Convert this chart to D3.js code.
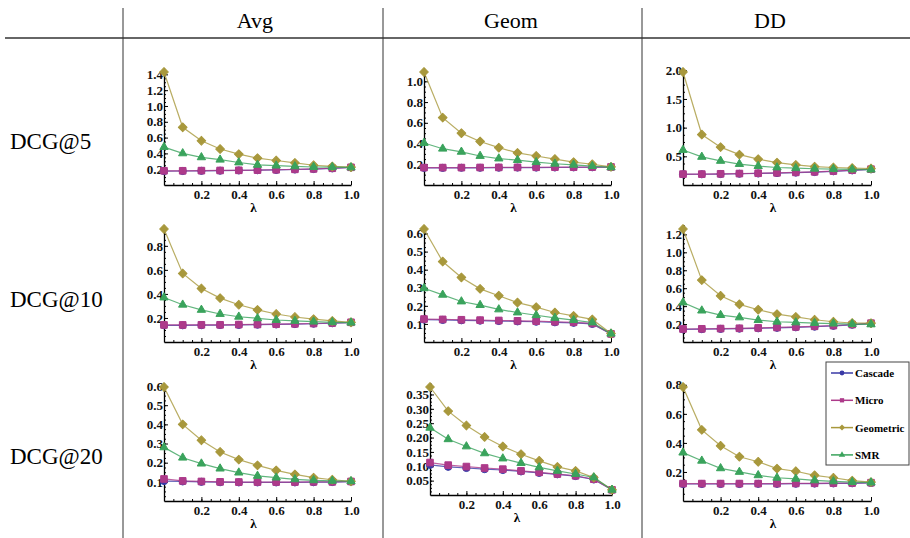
<!doctype html>
<html>

<head>
    <meta charset="utf-8">
    <title>DCG vs lambda</title>
    <style>
        body { margin: 0; background: #fff; }
        svg { display: block; }
        svg text { font-family: "Liberation Serif", "Times New Roman", "DejaVu Serif", serif; }
    </style>
    <script src="https://cdn.jsdelivr.net/npm/d3@7/dist/d3.min.js"></script>
</head>

<body>
    <svg width="910" height="538"></svg>
    <script>
    var lambdas = [0, 0.1, 0.2, 0.3, 0.4, 0.5, 0.6, 0.7, 0.8, 0.9, 1.0];
    var columns = ["Avg", "Geom", "DD"];
    var rows = ["DCG@5", "DCG@10", "DCG@20"];
    var seriesNames = ["Cascade", "Micro", "Geometric", "SMR"];
    var xTicks = [0.2, 0.4, 0.6, 0.8, 1.0];

    // panels in reading order: Avg, Geom, DD for DCG@5, then @10, then @20
    var yTicks = [
        [0.2, 0.4, 0.6, 0.8, 1.0, 1.2, 1.4],
        [0.2, 0.4, 0.6, 0.8, 1.0],
        [0.5, 1.0, 1.5, 2.0],
        [0.2, 0.4, 0.6, 0.8],
        [0.1, 0.2, 0.3, 0.4, 0.5, 0.6],
        [0.2, 0.4, 0.6, 0.8, 1.0, 1.2],
        [0.1, 0.2, 0.3, 0.4, 0.5, 0.6],
        [0.05, 0.10, 0.15, 0.20, 0.25, 0.30, 0.35],
        [0.2, 0.4, 0.6, 0.8]
    ];

    var cascade = [
        [0.176, 0.177, 0.179, 0.181, 0.184, 0.187, 0.191, 0.196, 0.202, 0.21, 0.222],
        [0.165, 0.165, 0.166, 0.166, 0.167, 0.168, 0.168, 0.169, 0.17, 0.171, 0.172],
        [0.186, 0.187, 0.191, 0.196, 0.201, 0.208, 0.216, 0.226, 0.239, 0.255, 0.273],
        [0.139, 0.139, 0.14, 0.141, 0.142, 0.144, 0.146, 0.149, 0.152, 0.156, 0.162],
        [0.124, 0.122, 0.12, 0.118, 0.116, 0.114, 0.112, 0.109, 0.106, 0.1, 0.044],
        [0.141, 0.143, 0.146, 0.149, 0.153, 0.158, 0.164, 0.171, 0.18, 0.192, 0.207],
        [0.104, 0.102, 0.1, 0.098, 0.097, 0.097, 0.097, 0.097, 0.098, 0.099, 0.101],
        [0.105, 0.098, 0.094, 0.09, 0.087, 0.082, 0.077, 0.072, 0.066, 0.054, 0.018],
        [0.117, 0.117, 0.117, 0.117, 0.118, 0.118, 0.119, 0.12, 0.121, 0.122, 0.124]
    ];

    var micro = [
        [0.18, 0.18, 0.182, 0.184, 0.186, 0.189, 0.193, 0.198, 0.204, 0.212, 0.224],
        [0.168, 0.168, 0.168, 0.169, 0.17, 0.17, 0.171, 0.172, 0.172, 0.173, 0.174],
        [0.19, 0.19, 0.195, 0.2, 0.205, 0.212, 0.22, 0.23, 0.243, 0.258, 0.276],
        [0.142, 0.142, 0.143, 0.143, 0.145, 0.146, 0.148, 0.151, 0.154, 0.158, 0.164],
        [0.127, 0.125, 0.123, 0.121, 0.119, 0.117, 0.115, 0.112, 0.109, 0.103, 0.045],
        [0.145, 0.147, 0.15, 0.153, 0.157, 0.162, 0.168, 0.175, 0.184, 0.195, 0.21],
        [0.115, 0.105, 0.102, 0.1, 0.099, 0.099, 0.099, 0.099, 0.1, 0.1, 0.102],
        [0.113, 0.104, 0.099, 0.094, 0.09, 0.084, 0.079, 0.073, 0.067, 0.055, 0.018],
        [0.12, 0.12, 0.12, 0.12, 0.12, 0.12, 0.121, 0.122, 0.123, 0.124, 0.126]
    ];

    var geometric = [
        [1.43, 0.73, 0.56, 0.455, 0.39, 0.34, 0.31, 0.28, 0.25, 0.235, 0.225],
        [1.09, 0.65, 0.50, 0.42, 0.36, 0.31, 0.28, 0.25, 0.22, 0.20, 0.175],
        [1.97, 0.88, 0.66, 0.53, 0.45, 0.39, 0.35, 0.32, 0.305, 0.295, 0.288],
        [0.94, 0.57, 0.445, 0.365, 0.31, 0.267, 0.233, 0.208, 0.19, 0.175, 0.164],
        [0.625, 0.445, 0.357, 0.294, 0.256, 0.218, 0.193, 0.163, 0.144, 0.125, 0.047],
        [1.26, 0.69, 0.515, 0.42, 0.36, 0.31, 0.28, 0.248, 0.226, 0.212, 0.21],
        [0.595, 0.40, 0.317, 0.256, 0.216, 0.186, 0.16, 0.139, 0.122, 0.111, 0.103],
        [0.376, 0.292, 0.242, 0.202, 0.169, 0.142, 0.119, 0.098, 0.084, 0.061, 0.018],
        [0.785, 0.49, 0.38, 0.305, 0.27, 0.223, 0.205, 0.177, 0.16, 0.14, 0.13]
    ];

    var smr = [
        [0.48, 0.40, 0.35, 0.32, 0.285, 0.255, 0.245, 0.235, 0.228, 0.225, 0.222],
        [0.405, 0.35, 0.32, 0.28, 0.255, 0.24, 0.22, 0.205, 0.195, 0.182, 0.17],
        [0.61, 0.49, 0.42, 0.365, 0.33, 0.305, 0.293, 0.283, 0.276, 0.271, 0.268],
        [0.37, 0.31, 0.267, 0.233, 0.21, 0.197, 0.183, 0.175, 0.169, 0.164, 0.161],
        [0.297, 0.261, 0.224, 0.204, 0.18, 0.163, 0.148, 0.133, 0.121, 0.108, 0.046],
        [0.44, 0.35, 0.30, 0.274, 0.244, 0.226, 0.218, 0.211, 0.205, 0.2, 0.196],
        [0.28, 0.226, 0.195, 0.169, 0.148, 0.131, 0.122, 0.113, 0.108, 0.105, 0.103],
        [0.234, 0.194, 0.169, 0.145, 0.127, 0.111, 0.096, 0.084, 0.073, 0.061, 0.018],
        [0.333, 0.277, 0.225, 0.2, 0.177, 0.16, 0.153, 0.142, 0.135, 0.13, 0.127]
    ];

    var colors = ["#3a3aa6", "#ad3a8a", "#a8983c", "#3aa35c"];

    var svg = d3.select("svg");

    // marker shapes: circle, square, diamond (rotated square), triangle
    var markers = [
        { type: d3.symbolCircle, size: 40, rot: 0 },
        { type: d3.symbolSquare, size: 44, rot: 0 },
        { type: d3.symbolSquare, size: 38, rot: 45 },
        { type: d3.symbolTriangle, size: 30, rot: 0 }
    ];

    // table rules
    svg.append("line").attr("x1", 5).attr("x2", 910).attr("y1", 38).attr("y2", 38)
        .attr("stroke", "#666").attr("stroke-width", 2);
    [123, 383, 642].forEach(function(x) {
        svg.append("line").attr("x1", x).attr("x2", x).attr("y1", 8).attr("y2", 538)
            .attr("stroke", "#333").attr("stroke-width", 1);
    });

    var colX = [[164, 351], [424, 611], [683, 871]];
    var rowY = [[72, 185], [229, 342], [387, 501]];
    var colCenter = [255, 511, 770];
    var rowBase = [149, 307, 464];

    svg.selectAll(".colhead").data(columns).enter().append("text")
        .attr("x", function(d, i) { return colCenter[i]; })
        .attr("y", 28)
        .attr("text-anchor", "middle")
        .attr("font-size", 22)
        .text(function(d) { return d; });

    svg.selectAll(".rowhead").data(rows).enter().append("text")
        .attr("x", 10)
        .attr("y", function(d, i) { return rowBase[i]; })
        .attr("font-size", 23)
        .text(function(d) { return d; });

    d3.range(9).forEach(function(p) {
        var r = Math.floor(p / 3), c = p % 3;
        var xr = colX[c], yr = rowY[r];
        if (p === 7) { xr = [430, 612]; yr = [387, 495]; }

        var all = [cascade[p], micro[p], geometric[p], smr[p]];
        var ymax = d3.max(all, function(s) { return d3.max(s); });

        var x = d3.scaleLinear().domain([0, 1]).range(xr);
        var y = d3.scaleLinear().domain([0, ymax]).range([yr[1], yr[0]]);
        var yAx = y.copy().domain([0, y.invert(yr[0] - 4)]).range([yr[1], yr[0] - 4]);

        var g = svg.append("g");
        var step = yTicks[p][1] - yTicks[p][0];
        var fmt = d3.format(p === 7 ? ".2f" : ".1f");

        // minor ticks
        g.append("g").attr("transform", "translate(0," + yr[1] + ")")
            .call(d3.axisBottom(x).tickValues(d3.range(0.05, 1.001, 0.05)).tickSize(-2).tickSizeOuter(0).tickFormat(""))
            .call(function(s) { s.select(".domain").remove(); });
        g.append("g").attr("transform", "translate(" + xr[0] + ",0)")
            .call(d3.axisLeft(yAx).tickValues(d3.range(step / 4, yAx.domain()[1], step / 4)).tickSize(-2).tickSizeOuter(0).tickFormat(""))
            .call(function(s) { s.select(".domain").remove(); });

        g.append("g").attr("transform", "translate(0," + yr[1] + ")")
            .call(d3.axisBottom(x).tickValues(xTicks).tickSize(-4).tickSizeOuter(0).tickPadding(5).tickFormat(d3.format(".1f")));
        g.append("g").attr("transform", "translate(" + xr[0] + ",0)")
            .call(d3.axisLeft(yAx).tickValues(yTicks[p]).tickSize(-4).tickSizeOuter(0).tickPadding(1).tickFormat(fmt));

        g.selectAll("g").attr("font-family", null);
        g.selectAll(".domain").attr("stroke", "#000").attr("stroke-width", 1.3);
        g.selectAll(".tick line").attr("stroke", "#000");
        g.selectAll("text").attr("font-size", 13)
            .attr("font-weight", "bold").attr("fill", "#111");

        g.append("text")
            .attr("x", (xr[0] + xr[1]) / 2 - 4)
            .attr("y", yr[1] + 27)
            .attr("text-anchor", "middle")
            .attr("font-size", 13)
            .attr("font-weight", "bold")
            .text("λ");

        var line = d3.line()
            .x(function(d, k) { return x(lambdas[k]); })
            .y(function(d) { return y(d); });

        all.forEach(function(vals, i) {
            g.append("path").datum(vals)
                .attr("d", line)
                .attr("fill", "none")
                .attr("stroke", colors[i])
                .attr("stroke-opacity", 0.8)
                .attr("stroke-width", 1.2);
            g.selectAll(null).data(vals).enter().append("path")
                .attr("transform", function(d, k) {
                    return "translate(" + x(lambdas[k]) + "," + y(d) + ") rotate(" + markers[i].rot + ")";
                })
                .attr("d", d3.symbol().type(markers[i].type).size(markers[i].size))
                .attr("fill", colors[i])
                .attr("stroke", colors[i])
                .attr("stroke-width", 1)
                .attr("stroke-linejoin", "round");
        });
    });

    // legend
    var lg = svg.append("g");
    lg.append("rect").attr("x", 826).attr("y", 362).attr("width", 83).attr("height", 103)
        .attr("fill", "#fff").attr("stroke", "#444").attr("stroke-width", 1);
    var items = lg.selectAll(".item").data(seriesNames).enter().append("g")
        .attr("transform", function(d, i) { return "translate(0," + (373 + i * 27.3) + ")"; });
    items.append("line").attr("x1", 831).attr("x2", 853).attr("y1", 0).attr("y2", 0)
        .attr("stroke", function(d, i) { return colors[i]; }).attr("stroke-width", 1.5);
    items.append("path")
        .attr("transform", function(d, i) { return "translate(842,0) rotate(" + markers[i].rot + ")"; })
        .attr("d", function(d, i) { return d3.symbol().type(markers[i].type).size(18)(); })
        .attr("fill", function(d, i) { return colors[i]; });
    items.append("text")
        .attr("x", 855)
        .attr("y", 4)
        .attr("font-size", 11)
        .attr("font-weight", "bold")
        .text(function(d) { return d; });
    </script>
</body>

</html>
